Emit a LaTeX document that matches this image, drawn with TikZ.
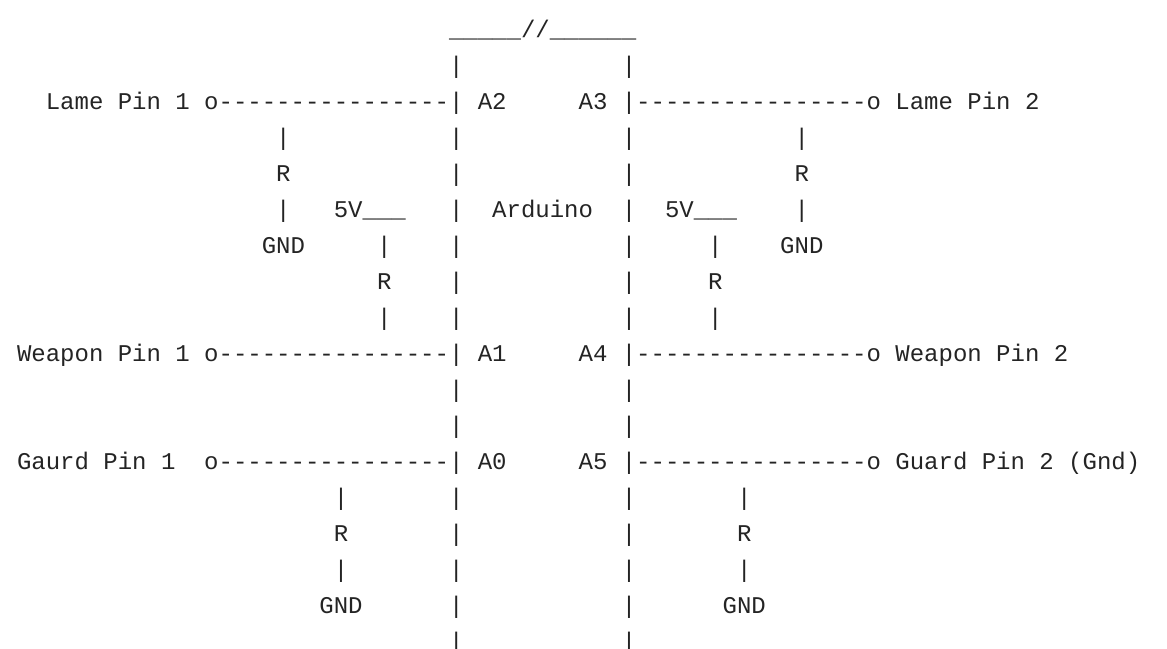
\documentclass[tikz,border=0pt]{standalone}
\usepackage{fontspec}
\newfontfamily\asciifont{Liberation Mono}
\definecolor{inktext}{HTML}{242424}
\tikzset{
  asciitok/.style={anchor=base west,inner sep=0pt,outer sep=0pt,text=inktext,
    font=\asciifont\fontsize{24.09pt}{36pt}\selectfont}
}
\newcommand{\tok}[4]{\node[asciitok] (#1) at ({2.6+14.4*#2},{37.5+36*#3}) {#4};}
\begin{document}
\begin{tikzpicture}[x=1bp,y=-1bp]
\useasboundingbox (0,0) rectangle (1167,649);
\clip (0,0) rectangle (1167,649);
\tok{top}{31}{0}{\_\_\_\_\_//\_\_\_\_\_\_}
% the two long rails of the Arduino
\foreach \r in {1,3,4,5,6,7,8,10,11,13,14,15,16,17}{
  \tok{railL\r}{31}{\r}{|}
  \tok{railR\r}{43}{\r}{|}
}
% row 2
\tok{lameA}{3}{2}{Lame Pin 1}
\tok{lameAw}{14}{2}{o----------------|}
\tok{aTwo}{33}{2}{A2}
\tok{aThree}{40}{2}{A3}
\tok{lameBw}{43}{2}{|----------------o}
\tok{lameB}{62}{2}{Lame Pin 2}
% lame pull-downs
\tok{la1}{19}{3}{|}
\tok{la2}{19}{4}{R}
\tok{la3}{19}{5}{|}
\tok{la4}{18}{6}{GND}
\tok{lb1}{55}{3}{|}
\tok{lb2}{55}{4}{R}
\tok{lb3}{55}{5}{|}
\tok{lb4}{54}{6}{GND}
% centre label
\tok{ard}{34}{5}{Arduino}
% weapon pull-ups
\tok{wa0}{23}{5}{5V\_\_\_}
\tok{wa1}{26}{6}{|}
\tok{wa2}{26}{7}{R}
\tok{wa3}{26}{8}{|}
\tok{wb0}{46}{5}{5V\_\_\_}
\tok{wb1}{49}{6}{|}
\tok{wb2}{49}{7}{R}
\tok{wb3}{49}{8}{|}
% row 9
\tok{weapA}{1}{9}{Weapon Pin 1}
\tok{weapAw}{14}{9}{o----------------|}
\tok{aOne}{33}{9}{A1}
\tok{aFour}{40}{9}{A4}
\tok{weapBw}{43}{9}{|----------------o}
\tok{weapB}{62}{9}{Weapon Pin 2}
% row 12
\tok{guardA}{1}{12}{Gaurd Pin 1}
\tok{guardAw}{14}{12}{o----------------|}
\tok{aZero}{33}{12}{A0}
\tok{aFive}{40}{12}{A5}
\tok{guardBw}{43}{12}{|----------------o}
\tok{guardB}{62}{12}{Guard Pin 2 (Gnd)}
% guard pull-downs
\tok{ga1}{23}{13}{|}
\tok{ga2}{23}{14}{R}
\tok{ga3}{23}{15}{|}
\tok{ga4}{22}{16}{GND}
\tok{gb1}{51}{13}{|}
\tok{gb2}{51}{14}{R}
\tok{gb3}{51}{15}{|}
\tok{gb4}{50}{16}{GND}
\end{tikzpicture}
\end{document}
